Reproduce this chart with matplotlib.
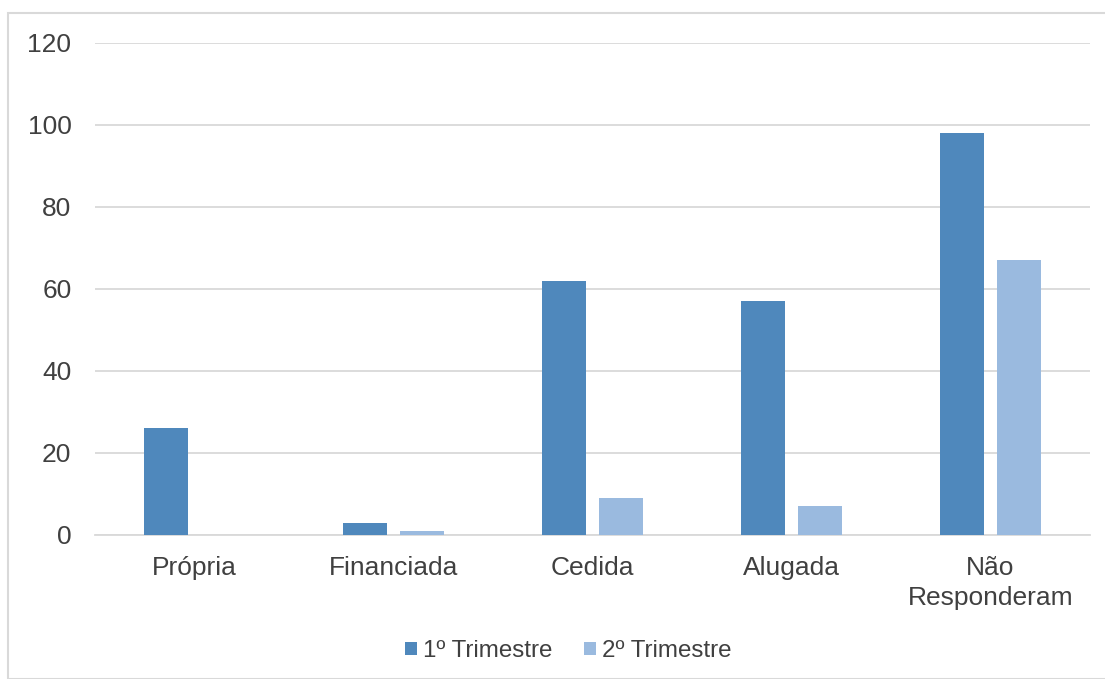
import numpy as np
import matplotlib.pyplot as plt
from matplotlib.patches import Rectangle

plt.rcParams['font.family'] = ['Liberation Sans', 'DejaVu Sans']

categorias = ['Própria', 'Financiada', 'Cedida', 'Alugada', 'Não\nResponderam']
trim1 = [26, 3, 62, 57, 98]
trim2 = [0, 1, 9, 7, 67]
series = ['1º Trimestre', '2º Trimestre']
cor1 = '#4f88bc'
cor2 = '#9abadf'
texto = '#404040'

fig = plt.figure(figsize=(11.05, 6.79), dpi=100)
# moldura do grafico
fig.patches.append(Rectangle((8/1105, 0), 1.2, 1 - 13/679, transform=fig.transFigure,
                             fill=False, edgecolor='#d9d9d9', linewidth=1.5))
ax = fig.add_axes([95/1105, 1 - 535/679, 995/1105, (535 - 43)/679])

x = np.arange(len(categorias))
w = 0.222
d = 0.143
ax.bar(x - d, trim1, w, color=cor1, label=series[0], zorder=3)
ax.bar(x + d, trim2, w, color=cor2, label=series[1], zorder=3)

ax.set_xlim(-0.5, len(categorias) - 0.5)
ax.set_ylim(0, 120)
ax.set_yticks(range(0, 121, 20))
ax.set_xticks(x)
ax.set_xticklabels(categorias, linespacing=1.3)
ax.yaxis.grid(True, color='#d9d9d9', linewidth=1.3, zorder=0)
for s in ax.spines.values():
    s.set_visible(False)
ax.spines['bottom'].set_visible(True)
ax.spines['bottom'].set_color('#d9d9d9')
ax.spines['bottom'].set_linewidth(1.3)
ax.tick_params(length=0, labelsize=19, colors=texto)
ax.tick_params(axis='y', pad=17)
ax.tick_params(axis='x', pad=15)

leg = fig.legend(loc='center', bbox_to_anchor=(568/1105, 1 - 651/679), ncol=2, frameon=False,
                 fontsize=17.4, handlelength=0.5, handleheight=0.5, handletextpad=0.25,
                 columnspacing=1.3)
for t in leg.get_texts():
    t.set_color(texto)

fig.savefig('out.png', dpi=100)
